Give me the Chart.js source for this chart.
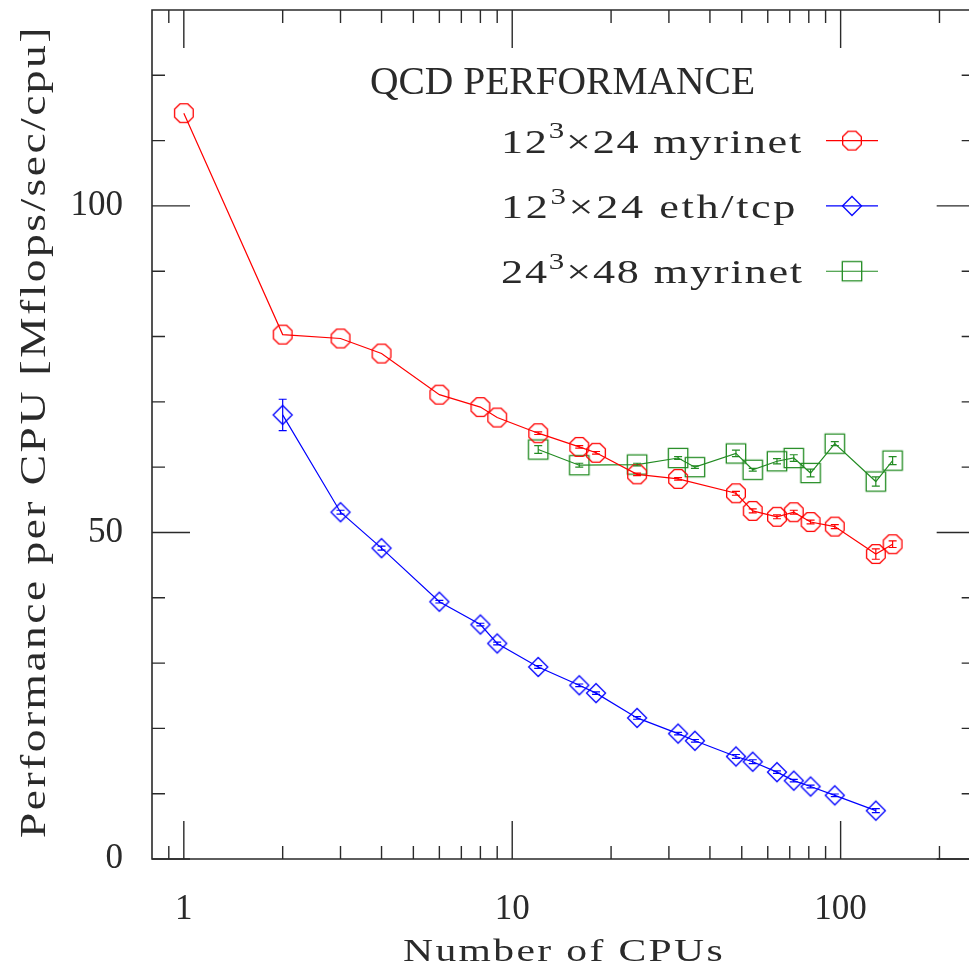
<!DOCTYPE html>
<html>
<head>
<meta charset="utf-8">
<title>QCD performance</title>
<script src="https://cdn.jsdelivr.net/npm/chart.js@4.4.1/dist/chart.umd.min.js"></script>
<style>
  html, body { margin: 0; padding: 0; background: #fff; overflow: hidden; }
  #wrap { width: 969px; height: 971px; position: relative; }
  #perfChart { display: block; }
</style>
</head>
<body>
<div id="wrap"><canvas id="perfChart"></canvas></div>
<script>
// 12^3x24 lattice over myrinet
const cpusMyri = [1, 2, 3, 4, 6, 8, 9, 12, 16, 18, 24, 32, 48, 54, 64, 72, 81, 96, 128, 144];
const perfMyri = [114.2, 80.3, 79.7, 77.4, 71.1, 69.2, 67.6, 65.2, 63.1, 62.2, 58.9, 58.2, 56.0, 53.3, 52.4, 53.1, 51.6, 50.9, 46.7, 48.2];
const errMyri  = [0, 0, 0, 0, 0, 0, 0, 0.2, 0.2, 0.2, 0.2, 0.2, 0.3, 0.3, 0.3, 0.3, 0.3, 0.3, 0.8, 0.5];

// 12^3x24 lattice over ethernet / tcp
const cpusEth = [2, 3, 4, 6, 8, 9, 12, 16, 18, 24, 32, 36, 48, 54, 64, 72, 81, 96, 128];
const perfEth = [68.0, 53.1, 47.6, 39.4, 35.9, 33.0, 29.4, 26.6, 25.4, 21.6, 19.2, 18.1, 15.7, 14.9, 13.3, 12.0, 11.1, 9.75, 7.4];
const errEth  = [2.4, 0.3, 0.3, 0.2, 0.2, 0.2, 0.2, 0.2, 0.2, 0.2, 0.2, 0.2, 0.3, 0.3, 0.2, 0.2, 0.2, 0.2, 0.3];

// 24^3x48 lattice over myrinet
const cpusBig = [12, 16, 24, 32, 36, 48, 54, 64, 72, 81, 96, 128, 144];
const perfBig = [62.7, 60.3, 60.4, 61.4, 60.0, 62.1, 59.6, 60.9, 61.4, 59.1, 63.6, 57.8, 61.0];
const errBig  = [0.6, 0.3, 0.2, 0.2, 0.2, 0.5, 0.2, 0.4, 0.5, 0.6, 0.3, 0.7, 0.6];

// axis ticks
const xLabelTicks = [1, 10, 100];
const xMinorTicks = [0.9, 2, 3, 4, 5, 6, 7, 8, 9, 20, 30, 40, 50, 60, 70, 80, 90, 200];
const yLabelTicks = [0, 50, 100];
const yMinorTicks = [10, 20, 30, 40, 60, 70, 80, 90, 110, 120];
const xFrameRight = 256;   // right border sits just past the canvas edge

const plotTitle = 'QCD PERFORMANCE';
const xTitle = 'Number of CPUs';
const yTitle = 'Performance per CPU [Mflops/sec/cpu]';

const ink = '#2a2a2a';
const serif = '"Liberation Serif", "DejaVu Serif", serif';

// open marker glyphs, used both on the curves and in the key
function marker(shape, color) {
  const c = document.createElement('canvas');
  c.width = 26; c.height = 26;
  const g = c.getContext('2d');
  g.strokeStyle = color;
  g.lineWidth = 1.3;
  g.beginPath();
  if (shape === 'octagon') {
    for (let k = 0; k < 8; k++) {
      const a = Math.PI / 8 + k * Math.PI / 4;
      const px = 13 + 10.1 * Math.cos(a), py = 13 + 10.1 * Math.sin(a);
      if (k) g.lineTo(px, py); else g.moveTo(px, py);
    }
    g.closePath();
  } else if (shape === 'diamond') {
    g.moveTo(13, 3.5); g.lineTo(22.5, 13); g.lineTo(13, 22.5); g.lineTo(3.5, 13); g.closePath();
  } else {
    g.rect(3.3, 3.3, 19.4, 19.4);
  }
  g.stroke();
  return c;
}

const series = [
  { parts: ['12', '3', '\u00d724 myrinet'], x: cpusMyri, y: perfMyri, err: errMyri, color: '#ff0000', shape: 'octagon' },
  { parts: ['12', '3', '\u00d724 eth/tcp'], x: cpusEth, y: perfEth, err: errEth, color: '#0000ff', shape: 'diamond' },
  { parts: ['24', '3', '\u00d748 myrinet'], x: cpusBig, y: perfBig, err: errBig, color: '#228b22', shape: 'square' }
];

const datasets = series.map(s => ({
  label: s.parts.join(''),
  data: s.x.map((v, i) => ({ x: v, y: s.y[i] })),
  errors: s.err,
  borderColor: s.color,
  borderWidth: 1.2,
  tension: 0,
  pointStyle: marker(s.shape, s.color),
  pointRadius: 10,
  fill: false
}));

// The lettering is wide and airy: widen a little, then space the letters out
// until the run fills the wanted width.
function spread(ctx, runs, width) {
  ctx.letterSpacing = '0px';
  const widths = runs.map(r => { ctx.font = r.font; return ctx.measureText(r.text).width; });
  const natural = widths.reduce((a, b) => a + b, 0);
  const sx = Math.min(width / natural, 1.3);
  const chars = runs.reduce((n, r) => n + r.text.length, 0);
  const gap = (width / sx - natural) / chars;
  return { sx, gap, widths: widths.map((w, i) => w + gap * runs[i].text.length) };
}

function drawRuns(ctx, runs, x, y, width, align) {
  const { sx, gap, widths } = spread(ctx, runs, width);
  const total = widths.reduce((a, b) => a + b, 0);
  ctx.save();
  ctx.translate(x, y);
  ctx.scale(sx, 1);
  ctx.textAlign = 'left';
  ctx.textBaseline = 'alphabetic';
  ctx.letterSpacing = gap.toFixed(2) + 'px';
  let cx = align === 'center' ? -total / 2 : 0;
  runs.forEach((r, i) => {
    ctx.font = r.font;
    ctx.fillText(r.text, cx, r.rise || 0);
    cx += widths[i];
  });
  ctx.restore();
}

const plain = (text, size) => [{ text, font: size + 'px ' + serif }];
const keyRuns = (parts, size) => parts.map((p, i) => i === 1
  ? { text: p, font: (size * 0.7) + 'px ' + serif, rise: -size * 0.42 }
  : { text: p, font: size + 'px ' + serif });

// drop the label overhang Chart.js reserves, so the frame sits where we want it
const noPad = s => { s.paddingTop = s.paddingBottom = s.paddingLeft = s.paddingRight = 0; };

const framePlugin = {
  id: 'frame',
  beforeDatasetsDraw(chart) {
    const { ctx, chartArea: a, scales: { x, y } } = chart;
    const right = x.getPixelForValue(xFrameRight);
    ctx.save();
    ctx.strokeStyle = ink;
    ctx.lineWidth = 1.6;
    ctx.beginPath();
    ctx.moveTo(right, a.top); ctx.lineTo(a.left, a.top); ctx.lineTo(a.left, a.bottom); ctx.lineTo(right, a.bottom);
    ctx.stroke();
    ctx.lineWidth = 1.4;
    ctx.beginPath();
    const xt = (v, len) => {
      const px = x.getPixelForValue(v);
      ctx.moveTo(px, a.bottom); ctx.lineTo(px, a.bottom - len);
      ctx.moveTo(px, a.top); ctx.lineTo(px, a.top + len);
    };
    const yt = (v, len) => {
      const py = y.getPixelForValue(v);
      ctx.moveTo(a.left, py); ctx.lineTo(a.left + len, py);
      ctx.moveTo(right, py); ctx.lineTo(right - len, py);
    };
    xLabelTicks.forEach(v => xt(v, 38));
    xMinorTicks.forEach(v => xt(v, 13));
    yLabelTicks.forEach(v => yt(v, 38));
    yMinorTicks.forEach(v => yt(v, 13));
    ctx.stroke();
    ctx.restore();
  },
  afterDatasetsDraw(chart) {
    const { ctx, scales: { x, y } } = chart;
    ctx.save();
    ctx.lineWidth = 1.2;
    chart.data.datasets.forEach(ds => {
      ctx.strokeStyle = ds.borderColor;
      ctx.beginPath();
      ds.data.forEach((p, i) => {
        const e = ds.errors[i];
        if (!e) return;
        const px = x.getPixelForValue(p.x);
        const top = y.getPixelForValue(p.y + e), bot = y.getPixelForValue(p.y - e);
        ctx.moveTo(px, top); ctx.lineTo(px, bot);
        ctx.moveTo(px - 4, top); ctx.lineTo(px + 4, top);
        ctx.moveTo(px - 4, bot); ctx.lineTo(px + 4, bot);
      });
      ctx.stroke();
    });
    ctx.restore();
  },
  afterDraw(chart) {
    const { ctx, scales: { y } } = chart;
    ctx.save();
    ctx.fillStyle = ink;
    drawRuns(ctx, plain(plotTitle, 40), 370, 94, 385, 'left');
    const keyWidths = [302, 297, 303];
    series.forEach((s, i) => {
      const ry = y.getPixelForValue(110 - 10 * i);
      ctx.fillStyle = ink;
      drawRuns(ctx, keyRuns(s.parts, 34), 501, ry + 12, keyWidths[i], 'left');
      ctx.strokeStyle = s.color;
      ctx.lineWidth = 1.2;
      ctx.beginPath();
      ctx.moveTo(826, ry); ctx.lineTo(878, ry);
      ctx.stroke();
      const img = chart.data.datasets[i].pointStyle;
      ctx.drawImage(img, 852 - img.width / 2, ry - img.height / 2);
    });
    ctx.fillStyle = ink;
    drawRuns(ctx, plain(xTitle, 32), 564, 961, 322, 'center');
    ctx.translate(45, 431.5);
    ctx.rotate(-Math.PI / 2);
    drawRuns(ctx, plain(yTitle, 35), 0, 0, 813, 'center');
    ctx.restore();
  }
};

new Chart(document.getElementById('perfChart'), {
  type: 'line',
  data: { datasets },
  options: {
    responsive: true,
    maintainAspectRatio: false,
    animation: false,
    layout: { autoPadding: false, padding: { top: 10, right: 0, left: 0, bottom: 0 } },
    plugins: { legend: { display: false }, tooltip: { enabled: false } },
    scales: {
      x: {
        type: 'logarithmic',
        min: 0.8,
        max: 246,
        grid: { display: false },
        border: { display: false },
        afterBuildTicks: s => { s.ticks = xLabelTicks.map(v => ({ value: v })); },
        afterFit: s => { s.height = 112; noPad(s); },
        ticks: {
          autoSkip: false, maxRotation: 0, padding: 22, color: ink,
          font: { family: serif, size: 35 },
          callback: v => String(v)
        }
      },
      y: {
        min: 0,
        max: 130,
        grid: { display: false },
        border: { display: false },
        afterBuildTicks: s => { s.ticks = yLabelTicks.map(v => ({ value: v })); },
        afterFit: s => { s.width = 152; noPad(s); },
        ticks: {
          padding: 21, color: ink,
          font: { family: serif, size: 35 },
          callback: v => String(v)
        }
      }
    }
  },
  plugins: [framePlugin]
});
</script>
</body>
</html>
